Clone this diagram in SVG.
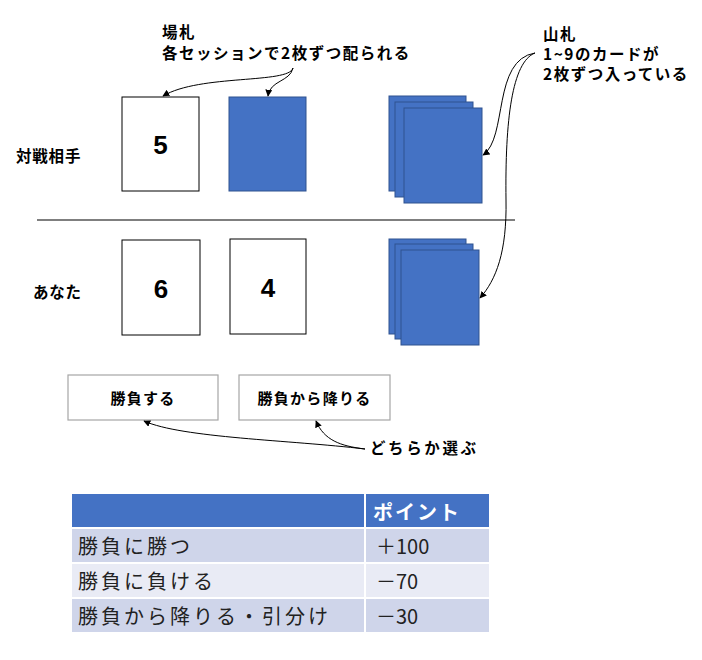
<svg xmlns="http://www.w3.org/2000/svg" width="702" height="660" viewBox="0 0 702 660">
<style>
text{font-family:"Noto Sans CJK JP","Noto Sans CJK SC",sans-serif;dominant-baseline:central;}
.b{font-weight:bold;fill:#000;}
.ann{font-size:15.5px;letter-spacing:1.5px;}
.lbl{font-size:15.5px;letter-spacing:0.8px;}
.num{font-family:"Liberation Sans","Noto Sans CJK JP",sans-serif;font-size:26px;font-weight:bold;text-anchor:middle;}
.white{fill:#fff;stroke:#000;stroke-width:1;}
.blue{fill:#4472C4;stroke:#2F528F;stroke-width:1;}
.btn{fill:#fff;stroke:#A6A6A6;stroke-width:1.2;}
.btxt{font-size:15px;font-weight:bold;letter-spacing:1.3px;text-anchor:middle;}
.conn path{fill:none;stroke:#000;stroke-width:1;marker-end:url(#ah);}
.cell{font-size:20px;letter-spacing:3px;fill:#222;}
</style>
<defs>
<marker id="ah" viewBox="0 0 10 10" refX="9" refY="5" markerWidth="7" markerHeight="7" orient="auto" markerUnits="userSpaceOnUse">
<path d="M0,0 L10,5 L0,10 z" fill="#000"/>
</marker>
</defs>

<g id="label-opponent"><text class="b lbl" x="16" y="155">対戦相手</text></g>
<g id="label-you"><text class="b lbl" x="33" y="291">あなた</text></g>

<g id="divider"><line x1="37" y1="220" x2="515" y2="220" stroke="#000" stroke-width="1.2"/></g>

<g id="opp-card-5"><rect class="white" x="122" y="97" width="77" height="94"/><text class="num" x="160.5" y="145">5</text></g>
<g id="opp-card-hidden"><rect class="blue" x="229" y="97" width="77" height="94"/></g>
<g id="opp-deck">
<rect class="blue" x="389" y="96" width="77" height="95"/>
<rect class="blue" x="395" y="102" width="78" height="95"/>
<rect class="blue" x="404" y="108" width="78" height="95"/>
</g>

<g id="my-card-6"><rect class="white" x="122" y="240" width="78" height="95"/><text class="num" x="161" y="289">6</text></g>
<g id="my-card-4"><rect class="white" x="230" y="239" width="76" height="95"/><text class="num" x="268" y="288">4</text></g>
<g id="my-deck">
<rect class="blue" x="389" y="239" width="77" height="95"/>
<rect class="blue" x="395" y="244" width="78" height="95"/>
<rect class="blue" x="401" y="250" width="78" height="95"/>
</g>

<g id="label-field"><text class="b ann" x="162" y="31">場札</text><text class="b ann" x="162" y="52">各セッションで2枚ずつ配られる</text></g>
<g id="label-deck"><text class="b ann" x="543" y="33">山札</text><text class="b ann" x="543" y="53">1~9のカードが</text><text class="b ann" x="543" y="73">2枚ずつ入っている</text></g>

<g id="btn-fight"><rect class="btn" x="68" y="375" width="150" height="45"/><text class="btxt" x="143" y="397">勝負する</text></g>
<g id="btn-fold"><rect class="btn" x="239" y="375" width="151" height="45"/><text class="btxt" x="314.5" y="397">勝負から降りる</text></g>
<g id="label-choose"><text class="b ann" x="370" y="447" style="letter-spacing:2.6px">どちらか選ぶ</text></g>

<g class="conn" id="connectors">
<path d="M293,68 C289,84 200,74 163,96"/>
<path d="M293,68 C290,82 270,80 268,96"/>
<path d="M535,53 C492,60 508,138 483,155"/>
<path d="M535,53 C512,62 505,120 506,200 C507,252 496,280 480,298"/>
<path d="M365,449 C290,440 182,438 144,421"/>
<path d="M365,449 C340,446 324,440 316,421"/>
</g>

<g id="score-table">
<rect x="72" y="494" width="417" height="138" fill="#fff"/>
<rect x="72" y="494" width="292" height="33" fill="#4472C4"/>
<rect x="366" y="494" width="123" height="33" fill="#4472C4"/>
<rect x="72" y="529" width="292" height="33" fill="#CFD5EA"/>
<rect x="366" y="529" width="123" height="33" fill="#CFD5EA"/>
<rect x="72" y="564" width="292" height="33" fill="#E9EBF5"/>
<rect x="366" y="564" width="123" height="33" fill="#E9EBF5"/>
<rect x="72" y="599" width="292" height="33" fill="#CFD5EA"/>
<rect x="366" y="599" width="123" height="33" fill="#CFD5EA"/>
<text x="373" y="511" style="font-size:20px;font-weight:bold;fill:#fff;letter-spacing:2px">ポイント</text>
<text class="cell" x="78" y="545">勝負に勝つ</text>
<text class="cell" x="78" y="580">勝負に負ける</text>
<text class="cell" x="78" y="615">勝負から降りる・引分け</text>
<text class="cell" x="376" y="545" style="letter-spacing:0">＋100</text>
<text class="cell" x="376" y="580" style="letter-spacing:0">－70</text>
<text class="cell" x="376" y="615" style="letter-spacing:0">－30</text>
</g>
</svg>
